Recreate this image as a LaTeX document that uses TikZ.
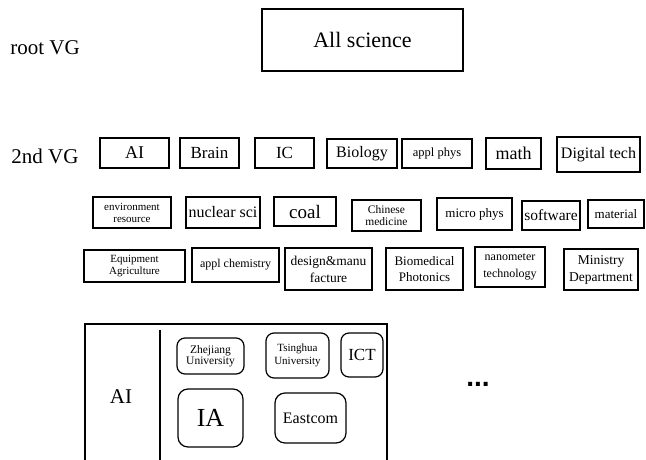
\documentclass[tikz,border=0pt]{standalone}
\usepackage{fontspec}
\setmainfont{Liberation Serif}
\newfontfamily\dotsfont{Liberation Sans}
\newcommand{\myfs}[2]{\fontsize{#1}{#2}\selectfont}
\tikzset{
  vgbox/.style={draw, line width=1.3pt, inner sep=0pt, align=center},
  orgbox/.style={draw, line width=1.2pt, inner sep=0pt, align=center, rounded corners=8pt},
  lbl/.style={inner sep=0pt, align=center}
}
\begin{document}
\begin{tikzpicture}[x=1pt,y=-1pt]
\useasboundingbox (0,0) rectangle (646,459);
\clip (0,0) rectangle (646,459);
% level labels
\node[lbl, font=\myfs{21}{24}] (rootlbl) at (45,48) {root VG};
\node[lbl, font=\myfs{21}{24}] (secondlbl) at (45,156) {2nd VG};
% root
\node[vgbox, minimum width=201pt, minimum height=62pt, font=\myfs{22}{25}] (allsci) at (362.5,40) {All science};
% row 2
\node[vgbox, minimum width=69pt, minimum height=30pt, font=\myfs{18}{20}] (ai) at (134.5,153) {AI};
\node[vgbox, minimum width=59pt, minimum height=30pt, font=\myfs{17}{20}] (brain) at (209.5,153) {Brain};
\node[vgbox, minimum width=59pt, minimum height=30pt, font=\myfs{17}{20}] (ic) at (284.5,153) {IC};
\node[vgbox, minimum width=70pt, minimum height=29pt, font=\myfs{16}{19}] (biology) at (362,153.5) {Biology};
\node[vgbox, minimum width=70pt, minimum height=29pt, font=\myfs{12.5}{15}] (applphys) at (437,153.5) {appl phys};
\node[vgbox, minimum width=55pt, minimum height=31pt, font=\myfs{18}{20}] (math) at (513.5,153.5) {math};
\node[vgbox, minimum width=83pt, minimum height=35pt, font=\myfs{16}{19}] (digital) at (598.5,154.5) {Digital tech};
% row 3
\node[vgbox, minimum width=78pt, minimum height=31pt, font=\myfs{11}{12}] (env) at (132,212.5) {environment\\resource};
\node[vgbox, minimum width=74pt, minimum height=31pt, font=\myfs{16}{19}] (nuclear) at (223,212.5) {nuclear sci};
\node[vgbox, minimum width=62pt, minimum height=29pt, font=\myfs{19}{21}] (coal) at (305,211.5) {coal};
\node[vgbox, minimum width=69pt, minimum height=31pt, font=\myfs{11.5}{12}] (chinese) at (386.5,215.5) {Chinese\\medicine};
\node[vgbox, minimum width=75pt, minimum height=32pt, font=\myfs{13}{15}] (micro) at (474.5,214) {micro phys};
\node[vgbox, minimum width=58pt, minimum height=29pt, font=\myfs{15.5}{18}] (software) at (551,215.5) {software};
\node[vgbox, minimum width=56pt, minimum height=28pt, font=\myfs{13}{15}] (material) at (616,214) {material};
% row 4
\node[vgbox, minimum width=101pt, minimum height=32pt, font=\myfs{11}{12}] (equip) at (134.5,266) {Equipment\\Agriculture};
\node[vgbox, minimum width=87pt, minimum height=34pt, font=\myfs{12}{14}] (applchem) at (235.5,265) {appl chemistry};
\node[vgbox, minimum width=87pt, minimum height=42pt, font=\myfs{13.5}{17}] (design) at (328.5,269) {design\&manu\\facture};
\node[vgbox, minimum width=77pt, minimum height=42pt, font=\myfs{13}{16}] (biomed) at (424.5,269) {Biomedical\\Photonics};
\node[vgbox, minimum width=70pt, minimum height=40pt, font=\myfs{12}{17}] (nano) at (510,267) {nanometer\\technology};
\node[vgbox, minimum width=74pt, minimum height=41pt, font=\myfs{13.5}{17}] (ministry) at (601,269.5) {Ministry\\Department};
% bottom AI detail box
\coordinate (outbl) at (85,470);
\coordinate (outtl) at (85,324);
\coordinate (outtr) at (387,324);
\coordinate (outbr) at (387,470);
\draw[line width=1.3pt] (outbl) -- (outtl) -- (outtr) -- (outbr);
\coordinate (divtop) at (160,330);
\coordinate (divbot) at (160,470);
\draw[line width=1.3pt] (divtop) -- (divbot);
\node[lbl, font=\myfs{21}{24}] (ailbl) at (121,397) {AI};
\node[orgbox, minimum width=67pt, minimum height=36pt, font=\myfs{11.5}{11}] (zju) at (210.5,356) {Zhejiang\\University};
\node[orgbox, minimum width=63pt, minimum height=45pt, font=\myfs{11}{12.5}] (thu) at (297.5,355.5) {Tsinghua\\University};
\node[orgbox, minimum width=42pt, minimum height=44pt, font=\myfs{17}{20}] (ict) at (362,355) {ICT};
\node[orgbox, minimum width=65pt, minimum height=58pt, rounded corners=10pt, font=\myfs{26}{28}] (ia) at (210.5,418) {IA};
\node[orgbox, minimum width=71pt, minimum height=50pt, rounded corners=10pt, font=\myfs{16}{19}] (eastcom) at (310.5,418) {Eastcom};
\node[lbl, font=\dotsfont\bfseries\myfs{28}{30}] (more) at (478,384) {...};
\end{tikzpicture}
\end{document}
